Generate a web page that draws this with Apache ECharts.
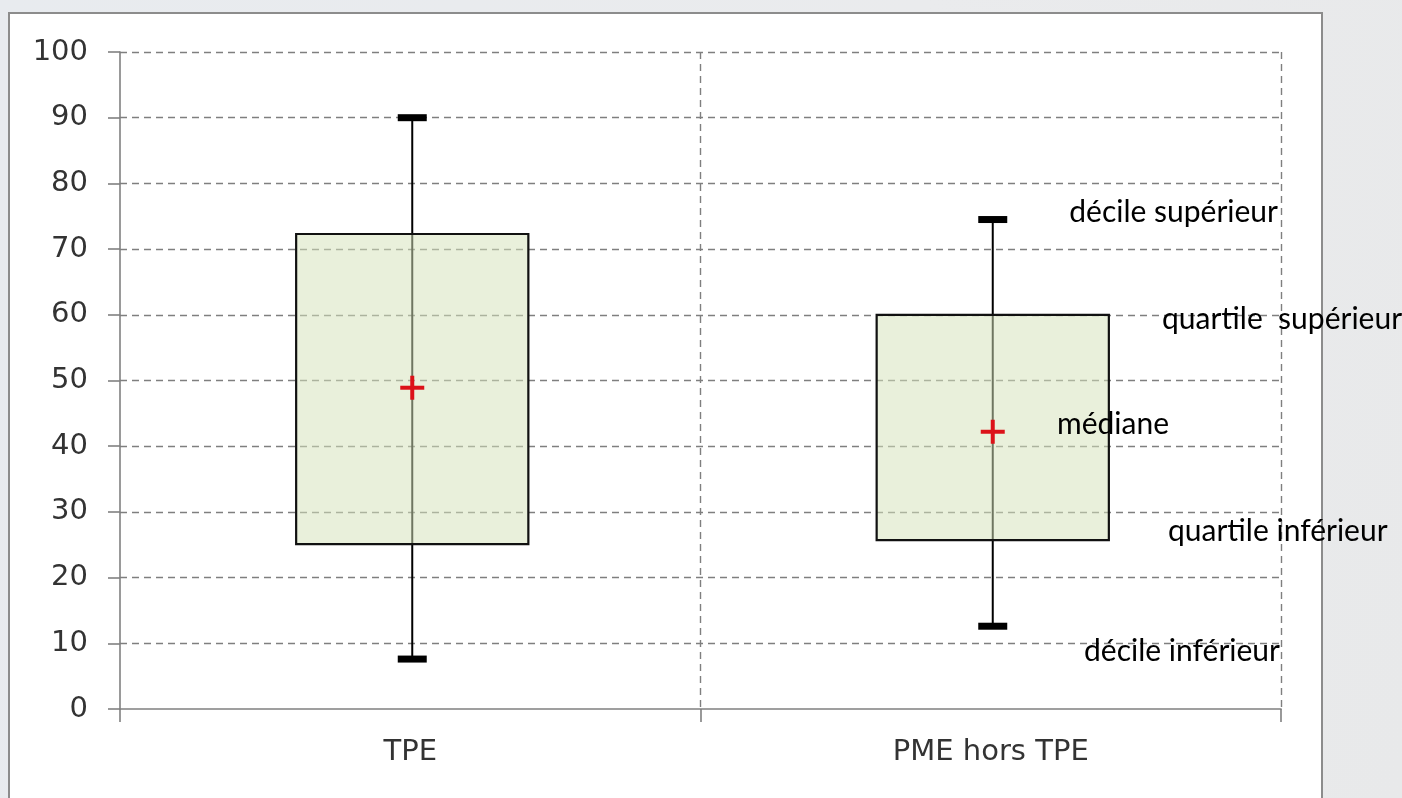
<!DOCTYPE html>
<html>
<head>
<meta charset="utf-8">
<script src="https://cdn.jsdelivr.net/npm/echarts@6/dist/echarts.min.js"></script>
<style>
  html, body { margin: 0; padding: 0; width: 1402px; height: 798px; overflow: hidden;
    background: linear-gradient(100deg, #e8ebef 0%, #eaebed 60%, #e8e9ea 100%); }
  #panel { position: absolute; left: 8px; top: 12px; width: 1315px; height: 800px;
    background: #ffffff; border: 2px solid #8c8c8c; box-sizing: border-box; }
  #chart { position: absolute; left: 0; top: 0; width: 1402px; height: 798px; }
</style>
</head>
<body>
<div id="panel"></div>
<div id="chart"></div>
<script>
// ---- data ----
const categories = ['TPE', 'PME hors TPE'];
const decileInf = [7.6, 12.6];
const quartileInf = [25.1, 25.7];
const mediane = [48.9, 42.2];
const quartileSup = [72.3, 60.0];
const decileSup = [90.0, 74.5];
const yTicks = [0, 10, 20, 30, 40, 50, 60, 70, 80, 90, 100];
const annotations = ['décile supérieur', 'quartile  supérieur', 'médiane', 'quartile inférieur', 'décile inférieur'];

const chart = echarts.init(document.getElementById('chart'), null, { renderer: 'canvas' });

const boxData = categories.map((c, i) => [i, decileInf[i], quartileInf[i], mediane[i], quartileSup[i], decileSup[i]]);

const axisColor = '#808080';
const gridDash = { color: '#7f7f7f', width: 1.4, type: [7, 5] };
const labelFont = { fontFamily: 'DejaVu Sans', fontSize: 29, color: '#333333' };

function renderBox(params, api) {
  const idx = api.value(0);
  const pLow = api.coord([idx, api.value(1)]);
  const pQ1 = api.coord([idx, api.value(2)]);
  const pMed = api.coord([idx, api.value(3)]);
  const pQ3 = api.coord([idx, api.value(4)]);
  const pHigh = api.coord([idx, api.value(5)]);
  const band = api.size([1, 0])[0];
  const x = pMed[0] + 2;
  const bw = band * 0.4;
  const capW = 29, capH = 7;
  const plus = 12;
  return {
    type: 'group',
    children: [
      { type: 'line', shape: { x1: x, y1: pLow[1], x2: x, y2: pHigh[1] },
        style: { stroke: '#000', lineWidth: 2 } },
      { type: 'rect', shape: { x: x - bw / 2, y: pQ3[1], width: bw, height: pQ1[1] - pQ3[1] },
        style: { fill: 'rgba(212,226,186,0.52)', stroke: '#111', lineWidth: 2.2 } },
      { type: 'rect', shape: { x: x - capW / 2, y: pHigh[1] - capH / 2, width: capW, height: capH },
        style: { fill: '#000' } },
      { type: 'rect', shape: { x: x - capW / 2, y: pLow[1] - capH / 2, width: capW, height: capH },
        style: { fill: '#000' } },
      { type: 'line', shape: { x1: x - plus, y1: pMed[1], x2: x + plus, y2: pMed[1] },
        style: { stroke: '#dc1219', lineWidth: 4 } },
      { type: 'line', shape: { x1: x, y1: pMed[1] - plus, x2: x, y2: pMed[1] + plus },
        style: { stroke: '#dc1219', lineWidth: 4 } }
    ]
  };
}

const annFont = 'Lato';
const annSize = 30;
function ann(text, x, y, align) {
  return { type: 'text', x: x, y: y, z: 100,
    style: { text: text, fill: '#000', font: annSize + 'px ' + annFont, textAlign: align, textVerticalAlign: 'middle' } };
}

chart.setOption({
  backgroundColor: 'transparent',
  animation: false,
  grid: { left: 120, right: 121, top: 52, bottom: 89, containLabel: false },
  xAxis: {
    type: 'category',
    data: categories,
    boundaryGap: true,
    axisLine: { show: true, lineStyle: { color: axisColor, width: 1.6 } },
    axisTick: { show: true, length: 13, alignWithLabel: false, lineStyle: { color: axisColor, width: 1.6 } },
    axisLabel: Object.assign({ margin: 29 }, labelFont),
    splitLine: { show: true, showMinLine: false, lineStyle: gridDash }
  },
  yAxis: {
    type: 'value',
    min: yTicks[0],
    max: yTicks[yTicks.length - 1],
    interval: yTicks[1] - yTicks[0],
    axisLine: { show: true, lineStyle: { color: axisColor, width: 1.6 } },
    axisTick: { show: true, length: 12, lineStyle: { color: axisColor, width: 1.6 } },
    axisLabel: Object.assign({ margin: 32 }, labelFont),
    splitLine: { show: true, showMinLine: false, lineStyle: gridDash }
  },
  series: [{
    type: 'custom',
    renderItem: renderBox,
    data: boxData,
    encode: { x: 0, y: [1, 2, 3, 4, 5] },
    z: 5
  }],
  graphic: [
    ann(annotations[0], 1278, 212, 'right'),
    ann(annotations[1], 1162, 319, 'left'),
    ann(annotations[2], 1057, 424, 'left'),
    ann(annotations[3], 1168, 531, 'left'),
    ann(annotations[4], 1280, 651, 'right')
  ]
});
</script>
</body>
</html>
